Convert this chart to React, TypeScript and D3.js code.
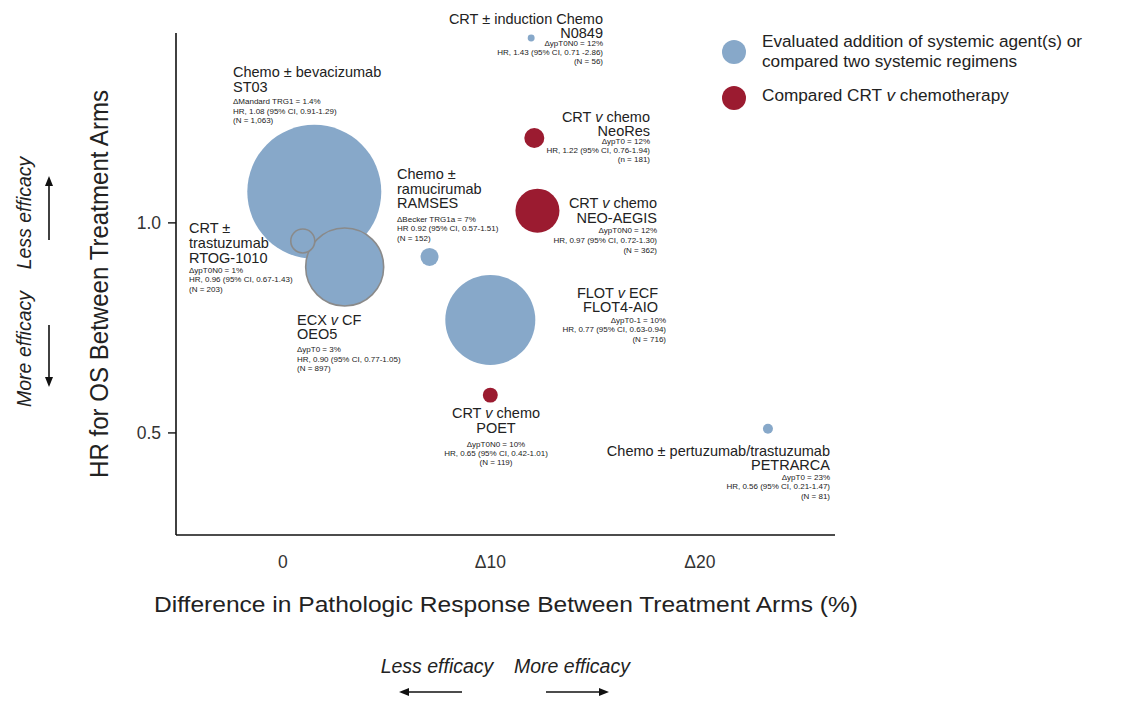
import React from "react";
import * as d3 from "d3";

// ---------- data ----------
const trials = ["ST03", "FLOT4-AIO", "NEO-AEGIS", "OEO5", "RTOG-1010", "RAMSES", "N0849", "NeoRes", "POET", "PETRARCA"];
const deltaResponse = [1.6, 10.0, 12.25, 3.05, 1.05, 7.1, 11.95, 12.1, 10.0, 23.25];
const hrPosition = [1.074, 0.769, 1.029, 0.895, 0.957, 0.919, 1.44, 1.202, 0.59, 0.51];
const bubbleArea = [4489, 2025, 484, 1521, 144, 81, 12, 100, 56, 25];
const comparison = ["systemic", "systemic", "crt", "systemic", "systemic", "systemic", "systemic", "crt", "crt", "systemic"];
const outlinedTrials = ["OEO5", "RTOG-1010"];

const yTicks = [0.5, 1.0];
const yTickLabels = ["0.5", "1.0"];
const xTicks = [0, 10, 20];
const xTickLabels = ["0", "Δ10", "Δ20"];

const legendItems = [
  { key: "systemic", lines: ["Evaluated addition of systemic agent(s) or", "compared two systemic regimens"] },
  { key: "crt", lines: ["Compared CRT |v| chemotherapy"] },
];

// label text: segments separated by | toggle italics
const labelTitles: Record<string, string[]> = {
  ST03: ["Chemo ± bevacizumab", "ST03"],
  N0849: ["CRT ± induction Chemo", "N0849"],
  NeoRes: ["CRT |v| chemo", "NeoRes"],
  "NEO-AEGIS": ["CRT |v| chemo", "NEO-AEGIS"],
  RAMSES: ["Chemo ±", "ramucirumab", "RAMSES"],
  "RTOG-1010": ["CRT ±", "trastuzumab", "RTOG-1010"],
  OEO5: ["ECX |v| CF", "OEO5"],
  "FLOT4-AIO": ["FLOT |v| ECF", "FLOT4-AIO"],
  POET: ["CRT |v| chemo", "POET"],
  PETRARCA: ["Chemo ± pertuzumab/trastuzumab", "PETRARCA"],
};
const labelDetails: Record<string, string[]> = {
  ST03: ["ΔMandard TRG1 = 1.4%", "HR, 1.08 (95% CI, 0.91-1.29)", "(N = 1,063)"],
  N0849: ["ΔypT0N0 = 12%", "HR, 1.43 (95% CI, 0.71 -2.86)", "(N = 56)"],
  NeoRes: ["ΔypT0 = 12%", "HR, 1.22 (95% CI, 0.76-1.94)", "(n = 181)"],
  "NEO-AEGIS": ["ΔypT0N0 = 12%", "HR, 0.97 (95% CI, 0.72-1.30)", "(N = 362)"],
  RAMSES: ["ΔBecker TRG1a = 7%", "HR 0.92 (95% CI, 0.57-1.51)", "(N = 152)"],
  "RTOG-1010": ["ΔypT0N0  = 1%", "HR, 0.96 (95% CI, 0.67-1.43)", "(N = 203)"],
  OEO5: ["ΔypT0 = 3%", "HR, 0.90 (95% CI, 0.77-1.05)", "(N = 897)"],
  "FLOT4-AIO": ["ΔypT0-1 = 10%", "HR, 0.77 (95% CI, 0.63-0.94)", "(N = 716)"],
  POET: ["ΔypT0N0 = 10%", "HR, 0.65 (95% CI, 0.42-1.01)", "(N = 119)"],
  PETRARCA: ["ΔypT0 = 23%", "HR, 0.56 (95% CI, 0.21-1.47)", "(N = 81)"],
};

// ---------- layout ----------
const W = 1136;
const H = 711;
const FONT = "'Liberation Sans', Arial, Helvetica, sans-serif";
const COLORS: Record<string, string> = { systemic: "#87a8c9", crt: "#9b1b30" };

type LabelLayout = { x: number; anchor: "start" | "middle" | "end"; titleY: number[]; detailX?: number; detailY: number[] };
const labelLayout: Record<string, LabelLayout> = {
  ST03: { x: 233, anchor: "start", titleY: [77, 92], detailY: [104, 114, 123] },
  N0849: { x: 603, anchor: "end", titleY: [24, 38], detailY: [46, 55, 64] },
  NeoRes: { x: 650, anchor: "end", titleY: [122, 136], detailY: [144, 153, 162] },
  "NEO-AEGIS": { x: 657, anchor: "end", titleY: [208, 223], detailY: [233, 243, 253] },
  RAMSES: { x: 397, anchor: "start", titleY: [179, 194, 208], detailY: [222, 231, 241] },
  "RTOG-1010": { x: 189, anchor: "start", titleY: [233, 248, 263], detailY: [273, 282, 292] },
  OEO5: { x: 297, anchor: "start", titleY: [325, 339], detailY: [352, 362, 371] },
  "FLOT4-AIO": { x: 658, anchor: "end", titleY: [298, 312], detailX: 666, detailY: [323, 332, 342] },
  POET: { x: 496, anchor: "middle", titleY: [418, 433], detailY: [447, 456, 465] },
  PETRARCA: { x: 830, anchor: "end", titleY: [456, 470], detailY: [480, 489, 499] },
};

const x = d3.scaleLinear().domain([-5, 26.45]).range([176, 835]);
const y = d3.scaleLinear().domain([0.257, 1.452]).range([535, 33]);
const r = d3.scaleSqrt().domain([0, d3.max(bubbleArea) as number]).range([0, 67]);

function Rich({ text }: { text: string }) {
  const parts = text.split("|");
  return (
    <>
      {parts.map((p, i) => (
        <tspan key={i} fontStyle={i % 2 === 1 ? "italic" : "normal"}>
          {p}
        </tspan>
      ))}
    </>
  );
}

function Arrow({ x1, y1, x2, y2 }: { x1: number; y1: number; x2: number; y2: number }) {
  const ang = Math.atan2(y2 - y1, x2 - x1);
  const L = 10;
  const Wd = 4;
  const bx = x2 - L * Math.cos(ang);
  const by = y2 - L * Math.sin(ang);
  const px = -Math.sin(ang) * Wd;
  const py = Math.cos(ang) * Wd;
  return (
    <g>
      <line x1={x1} y1={y1} x2={bx} y2={by} stroke="#111" strokeWidth={1.6} />
      <path d={`M${x2},${y2}L${bx + px},${by + py}L${bx - px},${by - py}Z`} fill="#111" />
    </g>
  );
}

export default function App() {
  const idx = trials.map((_, i) => i);
  return (
    <svg width={W} height={H} style={{ position: "absolute", left: 0, top: 0, background: "#fff" }} fontFamily={FONT}>
      <rect width={W} height={H} fill="#fff" />
      {/* bubbles */}
      {idx.map((i) => {
        const outlined = outlinedTrials.includes(trials[i]);
        return (
          <circle
            key={trials[i]}
            cx={x(deltaResponse[i])}
            cy={y(hrPosition[i])}
            r={r(bubbleArea[i])}
            fill={COLORS[comparison[i]]}
            stroke={outlined ? "#8a8a8a" : "none"}
            strokeWidth={outlined ? 1.6 : 0}
          />
        );
      })}
      {/* axes */}
      <line x1={x.range()[0]} x2={x.range()[0]} y1={y.range()[0]} y2={y.range()[1]} stroke="#111" strokeWidth={1.6} />
      <line x1={x.range()[0]} x2={x.range()[1]} y1={y.range()[0]} y2={y.range()[0]} stroke="#111" strokeWidth={1.6} />
      {yTicks.map((t, i) => (
        <g key={t}>
          <line x1={x.range()[0] - 8} x2={x.range()[0]} y1={y(t)} y2={y(t)} stroke="#111" strokeWidth={1.4} />
          <text x={161} y={y(t) + 6} textAnchor="end" fontSize={17.5} fill="#333">
            {yTickLabels[i]}
          </text>
        </g>
      ))}
      {xTicks.map((t, i) => (
        <text key={t} x={x(t) + (i === 0 ? 2 : 0)} y={568} textAnchor="middle" fontSize={17.5} fill="#333">
          {xTickLabels[i]}
        </text>
      ))}
      {/* axis titles */}
      <text
        transform={`translate(108,284) rotate(-90)`}
        textAnchor="middle"
        fontSize={25}
        fill="#222"
        fontFamily="'Liberation Sans Narrow', 'Liberation Sans', Arial, sans-serif"
        textLength={388}
        lengthAdjust="spacingAndGlyphs"
      >
        HR for OS Between Treatment Arms
      </text>
      <text x={506} y={612} textAnchor="middle" fontSize={22} fill="#222" textLength={704} lengthAdjust="spacingAndGlyphs">
        Difference in Pathologic Response Between Treatment Arms (%)
      </text>
      {/* efficacy annotations */}
      <text transform="translate(31,213) rotate(-90)" textAnchor="middle" fontSize={19.5} fontStyle="italic" fill="#222">
        Less efficacy
      </text>
      <text transform="translate(31,349) rotate(-90)" textAnchor="middle" fontSize={19.5} fontStyle="italic" fill="#222">
        More efficacy
      </text>
      <Arrow x1={49} y1={240} x2={49} y2={176} />
      <Arrow x1={49} y1={325} x2={49} y2={387} />
      <text x={437} y={673} textAnchor="middle" fontSize={19.5} fontStyle="italic" fill="#222">
        Less efficacy
      </text>
      <text x={572} y={673} textAnchor="middle" fontSize={19.5} fontStyle="italic" fill="#222">
        More efficacy
      </text>
      <Arrow x1={462} y1={692} x2={399} y2={692} />
      <Arrow x1={546} y1={692} x2={609} y2={692} />
      {/* legend */}
      {legendItems.map((item, i) => (
        <g key={item.key}>
          <circle cx={734} cy={52 + i * 46} r={12} fill={COLORS[item.key]} />
          {item.lines.map((ln, j) => (
            <text key={j} x={762} y={47 + i * 54 + j * 20} fontSize={17.2} fill="#222">
              <Rich text={ln} />
            </text>
          ))}
        </g>
      ))}
      {/* bubble labels */}
      {trials.map((t) => {
        const L = labelLayout[t];
        return (
          <g key={"lab" + t} fill="#222">
            {labelTitles[t].map((ln, j) => (
              <text key={"t" + j} x={L.x} y={L.titleY[j]} textAnchor={L.anchor} fontSize={14.5}>
                <Rich text={ln} />
              </text>
            ))}
            {labelDetails[t].map((ln, j) => (
              <text key={"d" + j} x={L.detailX ?? L.x} y={L.detailY[j]} textAnchor={L.anchor} fontSize={8}>
                {ln}
              </text>
            ))}
          </g>
        );
      })}
    </svg>
  );
}
